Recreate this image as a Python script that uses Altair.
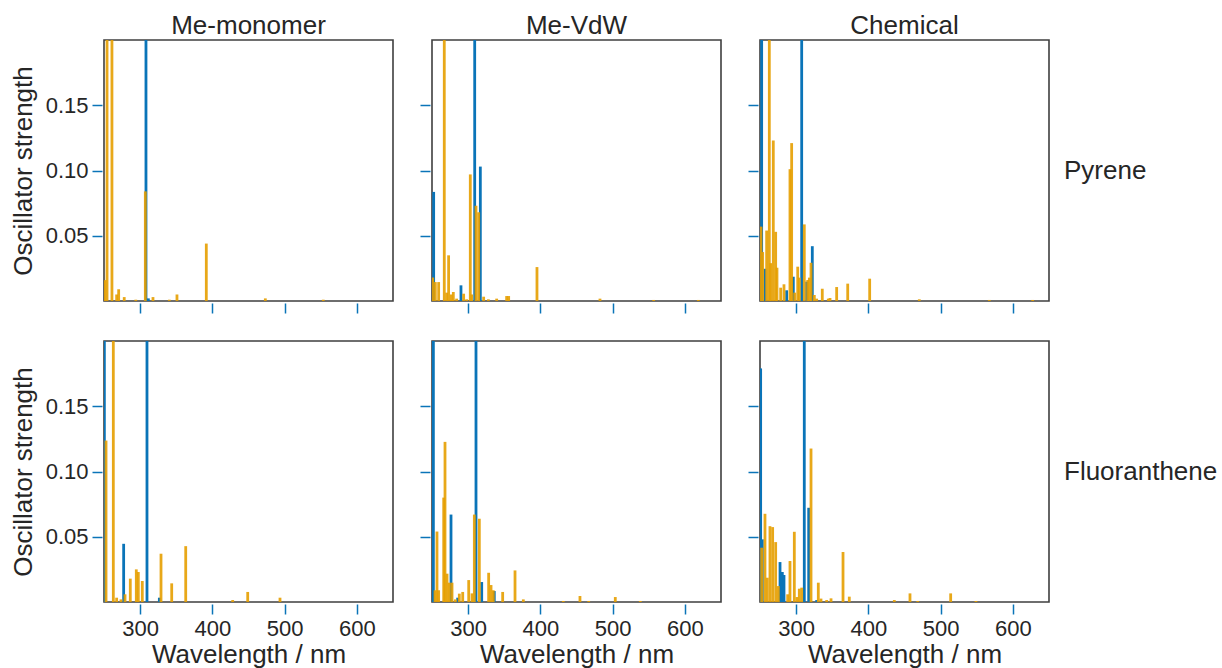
import altair as alt
import pandas as pd

FONT = "Liberation Sans"
BLUE = "#0a74b8"
ORANGE = "#E69F00"
TXT = "#262626"
TALL = 0.25  # bars that run off the top of the 0-0.2 window

# ---- Pyrene / Me-monomer
pm_blue_nm = [308.1, 311.4]
pm_blue_f = [TALL, 0.002]
pm_orng_nm = [251.4, 254.2, 261.0, 267.5, 270.3, 278.0, 294.0, 307.2, 317.8, 340.4, 351.0, 391.6, 473.3, 553.5]
pm_orng_f = [0.016, TALL, TALL, 0.005, 0.009, 0.003, 0.001, 0.084, 0.003, 0.001, 0.005, 0.044, 0.002, 0.001]

# ---- Pyrene / Me-VdW
pv_blue_nm = [252.3, 290.1, 309.1, 316.9]
pv_blue_f = [0.0836, 0.012, TALL, 0.103]
pv_orng_nm = [251.0, 254.6, 259.2, 267.0, 270.3, 273.0, 276.8, 279.5, 284.1, 293.8, 298.0, 303.0, 305.0,
              310.9, 314.6, 321.5, 328.0, 339.5, 353.3, 356.1, 395.3, 482.5, 556.8, 618.6]
pv_orng_f = [0.018, 0.0145, 0.0145, TALL, 0.0064, 0.035, 0.005, 0.0069, 0.0018, 0.0056, 0.0013, 0.097, 0.005,
             0.073, 0.068, 0.0033, 0.0013, 0.0018, 0.0038, 0.0038, 0.026, 0.0018, 0.0008, 0.0008]

# ---- Pyrene / Chemical
pc_blue_nm = [252.3, 256.9, 286.9, 296.1, 307.7, 314.6, 322.4]
pc_blue_f = [TALL, 0.0247, 0.0082, 0.0186, TALL, 0.0148, 0.042]
pc_orng_nm = [251.4, 253.7, 259.2, 262.9, 264.7, 268.4, 271.7, 273.5, 278.6, 283.2, 291.5, 293.8, 298.0,
              302.2, 304.4, 311.3, 316.0, 318.3, 320.6, 325.2, 328.4, 336.2, 344.5, 346.9, 356.1, 371.4,
              401.8, 470.5, 567.4, 627.4]
pc_orng_f = [0.057, 0.0375, 0.054, TALL, 0.029, 0.123, 0.053, 0.0255, 0.0102, 0.0128, 0.101, 0.121, 0.0064,
             0.0263, 0.0179, 0.0587, 0.0161, 0.0179, 0.0293, 0.0046, 0.0018, 0.0094, 0.0018, 0.0023, 0.0107,
             0.0133, 0.0171, 0.0013, 0.0008, 0.0008]

# ---- Fluoranthene / Me-monomer
fm_blue_nm = [250.5, 277.2, 309.5, 326.6]
fm_blue_f = [TALL, 0.0446, TALL, 0.0033]
fm_orng_nm = [252.8, 262.9, 267.5, 273.5, 279.1, 286.4, 294.7, 297.5, 303.0, 328.9, 343.7, 363.1, 428.1,
              448.9, 493.6]
fm_orng_f = [0.1237, TALL, 0.0033, 0.002, 0.0059, 0.0179, 0.025, 0.023, 0.0161, 0.037, 0.0143, 0.0428,
             0.0015, 0.0077, 0.0033]

# ---- Fluoranthene / Me-VdW
fv_blue_nm = [251.9, 276.3, 285.5, 310.9, 318.8, 336.2]
fv_blue_f = [TALL, 0.067, 0.0033, TALL, 0.0153, 0.0084]
fv_orng_nm = [254.2, 256.9, 259.2, 266.2, 268.0, 270.8, 274.0, 277.7, 282.3, 287.8, 292.5, 300.8, 305.4,
              308.6, 315.5, 328.4, 331.7, 334.8, 347.8, 364.9, 376.4, 431.7, 454.8, 466.9, 503.7, 538.3]
fv_orng_f = [0.009, 0.054, 0.009, 0.080, 0.1227, 0.0217, 0.0148, 0.0148, 0.002, 0.0064, 0.0077, 0.0168,
             0.0066, 0.067, 0.0638, 0.0224, 0.013, 0.009, 0.0077, 0.0242, 0.002, 0.0008, 0.0046, 0.0008,
             0.0038, 0.0008]

# ---- Fluoranthene / Chemical
fc_blue_nm = [250.9, 253.2, 277.7, 280.9, 283.2, 311.3, 317.4, 328.4]
fc_blue_f = [0.179, 0.048, 0.0306, 0.023, 0.0207, TALL, 0.0722, 0.0015]
fc_orng_nm = [252.3, 256.9, 260.1, 263.8, 267.5, 271.7, 275.4, 288.3, 291.5, 297.5, 301.2, 304.4, 307.7,
              320.6, 330.7, 334.4, 342.3, 348.3, 364.9, 373.6, 435.9, 457.6, 468.3, 513.9, 548.9]
fc_orng_f = [0.0416, 0.0676, 0.0186, 0.0581, 0.0574, 0.0459, 0.0122, 0.0059, 0.0314, 0.0538, 0.0038, 0.0102,
             0.011, 0.1176, 0.0148, 0.0026, 0.0015, 0.0028, 0.0383, 0.0041, 0.0015, 0.0066, 0.0008, 0.0066,
             0.0008]

COLUMNS = ["Me-monomer", "Me-VdW", "Chemical"]
ROWS = ["Pyrene", "Fluoranthene"]
X_TICKS = [300, 400, 500, 600]
Y_TICKS = [0.05, 0.10, 0.15]

PANELS = [
    [(pm_blue_nm, pm_blue_f, pm_orng_nm, pm_orng_f),
     (pv_blue_nm, pv_blue_f, pv_orng_nm, pv_orng_f),
     (pc_blue_nm, pc_blue_f, pc_orng_nm, pc_orng_f)],
    [(fm_blue_nm, fm_blue_f, fm_orng_nm, fm_orng_f),
     (fv_blue_nm, fv_blue_f, fv_orng_nm, fv_orng_f),
     (fc_blue_nm, fc_blue_f, fc_orng_nm, fc_orng_f)],
]

W, H = 289, 261


def panel(r, c):
    bnm, bf, onm, of = PANELS[r][c]
    dfb = pd.DataFrame({"nm": bnm, "f": bf})
    dfo = pd.DataFrame({"nm": onm, "f": of})

    xaxis = dict(values=X_TICKS, labels=(r == 1), domain=False, grid=False,
                 tickColor=BLUE, tickSize=10, tickWidth=1.5, offset=2,
                 labelFontSize=22, labelFont=FONT, labelColor=TXT, labelPadding=4,
                 titleFontSize=26, titleFont=FONT, titleColor=TXT, titleFontWeight="normal",
                 titlePadding=2)
    xaxis["title"] = "Wavelength / nm" if r == 1 else None
    yaxis = dict(values=Y_TICKS, labels=(c == 0), format=".2f", domain=False, grid=False,
                 tickColor=BLUE, tickSize=10, tickWidth=1.5, offset=2,
                 labelFontSize=22, labelFont=FONT, labelColor=TXT, labelPadding=4,
                 titleFontSize=26, titleFont=FONT, titleColor=TXT, titleFontWeight="normal",
                 titlePadding=9)
    yaxis["title"] = "Oscillator strength" if c == 0 else None

    x = alt.X("nm:Q", scale=alt.Scale(domain=[250, 650], nice=False, zero=False), axis=alt.Axis(**xaxis))
    y = alt.Y("f:Q", scale=alt.Scale(domain=[0, 0.2], nice=False, clamp=True), axis=alt.Axis(**yaxis))

    blue = alt.Chart(dfb).mark_rule(color=BLUE, strokeWidth=2.8, clip=True).encode(
        x=x, y=y, y2=alt.datum(0))
    orng = alt.Chart(dfo).mark_rule(color=ORANGE, strokeWidth=2.8, opacity=0.9, clip=True).encode(
        x=x, y=y, y2=alt.datum(0))
    layers = [blue, orng]
    if c == 2:
        lab = alt.Chart(pd.DataFrame({"t": [ROWS[r]]})).mark_text(
            align="left", baseline="middle", fontSize=26, font=FONT, color=TXT
        ).encode(x=alt.value(W + 15), y=alt.value(H / 2), text="t:N")
        layers.append(lab)
    ch = alt.layer(*layers).properties(width=W, height=H)
    if r == 0:
        ch = ch.properties(title=alt.TitleParams(COLUMNS[c], fontSize=26, font=FONT, color=TXT,
                                                 fontWeight="normal", offset=1, anchor="middle"))
    return ch


rows = [alt.hconcat(*[panel(r, c) for c in range(3)], spacing=24) for r in range(2)]
chart = alt.vconcat(*rows, spacing=25).properties(
    padding={"left": 9, "top": 12, "right": 0, "bottom": 0}
).configure(background="white").configure_view(stroke="#3f3f3f", strokeWidth=1.6)

chart.save("out.html", embed_options={"renderer": "svg", "actions": False})
